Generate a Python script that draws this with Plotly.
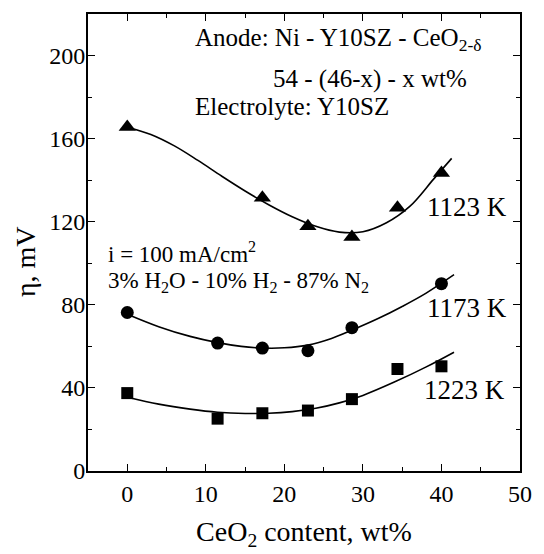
import plotly.graph_objects as go

# Measured points
x_1123 = [0, 17.2, 23.0, 28.6, 34.4, 40.0]
y_1123 = [165.6, 131.5, 117.8, 112.7, 126.7, 143.5]
x_1173 = [0, 11.5, 17.2, 23.0, 28.6, 40.0]
y_1173 = [76.3, 61.6, 59.2, 57.9, 69.0, 90.2]
x_1223 = [0, 11.5, 17.2, 23.0, 28.6, 34.4, 40.0]
y_1223 = [37.5, 25.2, 27.8, 29.1, 34.6, 49.1, 50.4]

# Fitted curves
fx_1123 = [0, 3, 6, 9, 12, 15, 18, 21, 24, 27, 30, 33, 36, 39, 41.3]
fy_1123 = [165.5, 162, 156.5, 149.5, 142, 134.8, 128.2, 122.4, 117.8, 115, 115.2, 119.5, 127.5, 140.5, 150.5]
fx_1173 = [0, 4, 8, 11.5, 14.5, 17.2, 20, 23, 26, 28.6, 32, 35, 38, 41.6]
fy_1173 = [75.5, 69.5, 64.8, 61.8, 60, 59.2, 59.3, 60.6, 63.8, 67.8, 73.5, 79.2, 85.5, 94.5]
fx_1223 = [0, 4, 8, 11.5, 15, 18, 21, 24, 27, 30, 34, 38, 41.6]
fy_1223 = [35.5, 32.2, 29.8, 28.3, 27.7, 27.8, 28.6, 30.2, 32.8, 36.4, 42.8, 50, 57.2]

x_ticks = [0, 10, 20, 30, 40, 50]
y_ticks = [0, 40, 80, 120, 160, 200]

FONT = "Liberation Serif"
fig = go.Figure()

for fx, fy in [(fx_1123, fy_1123), (fx_1173, fy_1173), (fx_1223, fy_1223)]:
    fig.add_trace(go.Scatter(x=fx, y=fy, mode="lines",
                             line=dict(color="black", width=1.6, shape="spline", smoothing=1.0),
                             showlegend=False, hoverinfo="skip"))

fig.add_trace(go.Scatter(x=x_1123, y=y_1123, mode="markers", name="1123 K",
                         marker=dict(symbol="triangle-up", size=15, color="black"), showlegend=False))
fig.add_trace(go.Scatter(x=x_1173, y=y_1173, mode="markers", name="1173 K",
                         marker=dict(symbol="circle", size=13, color="black"), showlegend=False))
fig.add_trace(go.Scatter(x=x_1223, y=y_1223, mode="markers", name="1223 K",
                         marker=dict(symbol="square", size=12, color="black"), showlegend=False))

annos = [
    (8.4, 207.5, "Anode: Ni - Y10SZ - CeO<sub>2-δ</sub>", 25),
    (18.3, 188.6, "54 - (46-x) - x wt%", 25),
    (8.4, 175.4, "Electrolyte: Y10SZ", 25),
    (-2.65, 105.0, "i = 100 mA/cm<sup>2</sup>", 23),
    (-2.65, 91.0, "3% H<sub>2</sub>O - 10% H<sub>2</sub> - 87% N<sub>2</sub>", 23),
    (37.9, 127.2, "1123 K", 27),
    (37.9, 78.6, "1173 K", 27),
    (37.5, 39.0, "1223 K", 27),
]
for ax_, ay_, t, fs in annos:
    fig.add_annotation(x=ax_, y=ay_, text=t, showarrow=False, xanchor="left", yanchor="middle",
                       font=dict(family=FONT, size=fs, color="black"))

# y-axis title (placed as rotated text)
fig.add_annotation(xref="paper", yref="paper", x=-0.145, y=0.458, text="η, mV", textangle=-90,
                   showarrow=False, xanchor="center", yanchor="middle",
                   font=dict(family=FONT, size=28, color="black"))

axis_common = dict(showline=True, linecolor="black", linewidth=1.8, mirror="allticks",
                   ticks="inside", ticklen=7, tickwidth=1.4, tickcolor="black",
                   showgrid=False, zeroline=False,
                   tickfont=dict(family=FONT, size=24, color="black"))

fig.update_xaxes(range=[-5, 50], tickvals=x_ticks,
                 minor=dict(dtick=5, ticks="inside", ticklen=4, tickwidth=1.4, tickcolor="black"),
                 title=dict(text="CeO<sub>2</sub> content, wt%", font=dict(family=FONT, size=28, color="black"), standoff=16),
                 **axis_common)
fig.update_yaxes(range=[0, 220], tickvals=y_ticks, ticklabelstandoff=-4,
                 minor=dict(dtick=20, ticks="inside", ticklen=4, tickwidth=1.4, tickcolor="black"),
                 **axis_common)

fig.update_layout(width=544, height=554, margin=dict(l=88, r=14, t=14, b=75),
                  plot_bgcolor="white", paper_bgcolor="white", font=dict(family=FONT))

fig.write_html("out.html")
